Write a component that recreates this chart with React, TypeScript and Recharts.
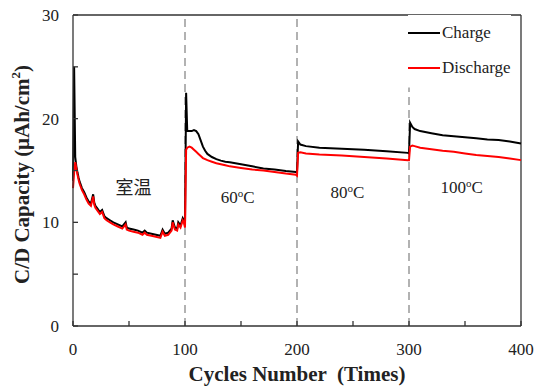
import React from "react";
import {
  Line,
  LineChart,
  ReferenceDot,
  ReferenceLine,
  XAxis,
  YAxis
} from "recharts";

const serif = "'Liberation Serif', 'Times New Roman', serif";
const axisColor = "#333";

const cycles = [
  0, 1, 2, 3, 4, 5, 6, 8, 10, 12, 14, 16, 18, 19, 20, 22, 24, 26, 28, 30, 33, 36, 40, 44, 47, 48,
  50, 54, 58, 62, 64, 66, 70, 74, 78, 80, 82, 85, 88, 89, 91, 93, 94, 96, 98, 99, 100,
  101, 102, 104, 106, 108, 110, 112, 114, 116, 118, 120, 124, 128, 132, 136, 140, 150, 160, 170,
  180, 190, 199, 200,
  201, 203, 208, 220, 240, 260, 280, 299, 300,
  301, 303, 305, 310, 320, 330, 340, 350, 360, 370, 380, 390, 400
];

const charge = [
  14.0, 25.0, 16.3, 15.4, 14.8, 14.3, 13.9, 13.3, 12.9, 12.4, 12.0, 11.8, 12.7, 11.9, 11.6, 11.3,
  11.0, 11.2, 10.6, 10.4, 10.2, 10.0, 9.8, 9.6, 10.0, 9.5, 9.4, 9.3, 9.2, 9.0, 9.2, 9.0, 8.9, 8.8,
  8.7, 9.3, 8.9, 9.0, 9.4, 10.2, 9.5, 9.4, 10.0, 9.7, 10.4, 10.2, 9.7,
  22.5, 18.8, 18.8, 18.8, 18.9, 18.8, 18.5, 17.9, 17.3, 16.9, 16.6, 16.3, 16.1, 15.95, 15.85, 15.8,
  15.6, 15.4, 15.2, 15.1, 14.95, 14.85, 14.8,
  17.8, 17.5, 17.35, 17.2, 17.1, 17.0, 16.85, 16.7, 16.65,
  19.6, 19.2, 19.0, 18.8, 18.6, 18.4, 18.3, 18.2, 18.1, 18.0, 17.95, 17.8, 17.6
];

const discharge = [
  13.3, 14.8, 15.8, 15.2, 14.6, 14.1, 13.7, 13.1, 12.7, 12.2, 11.8, 11.6, 12.5, 11.7, 11.4, 11.1,
  10.8, 11.0, 10.4, 10.2, 10.0, 9.8, 9.6, 9.4, 9.8, 9.3, 9.2, 9.1, 9.0, 8.8, 9.0, 8.8, 8.7, 8.6,
  8.5, 9.1, 8.7, 8.8, 9.2, 10.0, 9.3, 9.2, 9.8, 9.5, 10.2, 10.0, 9.5,
  17.0, 17.2, 17.3, 17.2, 17.0, 16.8, 16.6, 16.4, 16.2, 16.1, 16.0, 15.85, 15.7, 15.6, 15.5, 15.4,
  15.25, 15.1, 15.0, 14.85, 14.7, 14.6, 14.5,
  16.7, 16.75, 16.65, 16.55, 16.45, 16.3, 16.15, 16.0, 16.0,
  17.3, 17.4, 17.35, 17.2, 17.05, 16.9, 16.8, 16.65, 16.5, 16.4, 16.3, 16.15, 16.0
];

const xTicks = [0, 50, 100, 150, 200, 250, 300, 350, 400];
const yTicks = [0, 5, 10, 15, 20, 25, 30];
const phaseBounds = [100, 200];
const seriesNames = ["Charge", "Discharge"];
const seriesColors = ["#000", "#ff0000"];

const data = cycles.map((cycle, i) => ({
  cycle,
  charge: charge[i],
  discharge: discharge[i]
}));

// tick label only on the major values, small inward tick on all of them
function XTick({ x, y, payload }: any) {
  const major = payload.value % 100 === 0;
  return (
    <g>
      <line x1={x} x2={x} y1={y} y2={y - 5} stroke={axisColor} strokeWidth={1.3} />
      {major && (
        <text x={x} y={y + 29} textAnchor="middle" fontFamily={serif} fontSize={17} fill="#222">
          {payload.value}
        </text>
      )}
    </g>
  );
}

function YTick({ x, y, payload }: any) {
  const major = payload.value % 10 === 0;
  return (
    <g>
      <line x1={x} x2={x + 5} y1={y} y2={y} stroke={axisColor} strokeWidth={1.3} />
      {major && (
        <text x={x - 14} y={y + 6} textAnchor="end" fontFamily={serif} fontSize={17} fill="#222">
          {payload.value}
        </text>
      )}
    </g>
  );
}

function PhaseText({ cx, cy, label, sup, unit }: any) {
  return (
    <text
      x={cx}
      y={cy + 6}
      textAnchor="middle"
      fontFamily={sup ? serif : "'Noto Sans CJK SC', sans-serif"}
      fontSize={sup ? 17 : 18}
      fill="#222"
    >
      {label}
      {sup && (
        <tspan dy={-6} fontSize={11}>
          {sup}
        </tspan>
      )}
      {unit && <tspan dy={6}>{unit}</tspan>}
    </text>
  );
}

function LegendBox() {
  return (
    <div
      style={{
        position: "absolute",
        left: 408,
        top: 15,
        fontFamily: serif,
        fontSize: 17,
        color: "#222",
        background: "#fff"
      }}
    >
      {seriesNames.map((name, i) => (
        <div key={name} style={{ display: "flex", alignItems: "center", height: 35 }}>
          <span
            style={{ display: "inline-block", width: 32, height: 2, background: seriesColors[i], marginRight: 2 }}
          />
          <span>{name}</span>
        </div>
      ))}
    </div>
  );
}

export default function App() {
  return (
    <div style={{ position: "absolute", left: 0, top: 0, width: 536, height: 387, background: "#fff" }}>
      <LineChart width={536} height={387} data={data} margin={{ top: 15, right: 15, bottom: 31, left: 33 }}>
        <XAxis
          dataKey="cycle"
          type="number"
          domain={[0, 400]}
          ticks={xTicks}
          interval={0}
          tickSize={0}
          tickMargin={0}
          tickLine={false}
          height={30}
          stroke={axisColor}
          strokeWidth={1.3}
          tick={<XTick />}
          label={{
            content: ({ viewBox }: any) => (
              <text
                x={viewBox.x + viewBox.width / 2}
                y={viewBox.y + 55}
                textAnchor="middle"
                fontFamily={serif}
                fontWeight="bold"
                fontSize={21}
                fill="#222"
                style={{ whiteSpace: "pre" }}
              >
                {"Cycles Number  (Times)"}
              </text>
            )
          }}
        />
        <YAxis
          type="number"
          domain={[0, 30]}
          ticks={yTicks}
          interval={0}
          tickSize={0}
          tickMargin={0}
          tickLine={false}
          width={40}
          stroke={axisColor}
          strokeWidth={1.3}
          tick={<YTick />}
          label={{
            content: ({ viewBox }: any) => {
              const cx = 22;
              const cy = viewBox.y + viewBox.height / 2 + 4;
              return (
                <text
                  x={cx}
                  y={cy}
                  transform={`rotate(-90 ${cx} ${cy})`}
                  textAnchor="middle"
                  dominantBaseline="central"
                  fontFamily={serif}
                  fontWeight="bold"
                  fontSize={21}
                  fill="#222"
                >
                  C/D Capacity (μAh/cm
                  <tspan dy={-7} fontSize={13}>2</tspan>
                  <tspan dy={7}>)</tspan>
                </text>
              );
            }
          }}
        />
        <ReferenceLine y={30} stroke={axisColor} strokeWidth={1.3} />
        <ReferenceLine x={400} stroke={axisColor} strokeWidth={1.3} />
        {phaseBounds.map((b) => (
          <ReferenceLine key={b} x={b} stroke="#999" strokeWidth={1.5} strokeDasharray="8 5" />
        ))}
        <ReferenceLine
          segment={[
            { x: 300, y: 0 },
            { x: 300, y: 23 }
          ]}
          stroke="#999"
          strokeWidth={1.5}
          strokeDasharray="8 5"
        />
        <Line
          dataKey="charge"
          stroke={seriesColors[0]}
          strokeWidth={2}
          dot={false}
          type="linear"
          isAnimationActive={false}
        />
        <Line
          dataKey="discharge"
          stroke={seriesColors[1]}
          strokeWidth={2}
          dot={false}
          type="linear"
          isAnimationActive={false}
        />
        <ReferenceDot x={54} y={13.3} r={0} shape={(p: any) => <PhaseText {...p} label="室温" />} />
        <ReferenceDot x={147} y={12.4} r={0} shape={(p: any) => <PhaseText {...p} label="60" sup="o" unit="C" />} />
        <ReferenceDot x={245} y={12.9} r={0} shape={(p: any) => <PhaseText {...p} label="80" sup="o" unit="C" />} />
        <ReferenceDot x={347} y={13.4} r={0} shape={(p: any) => <PhaseText {...p} label="100" sup="o" unit="C" />} />
      </LineChart>
      <LegendBox />
    </div>
  );
}
